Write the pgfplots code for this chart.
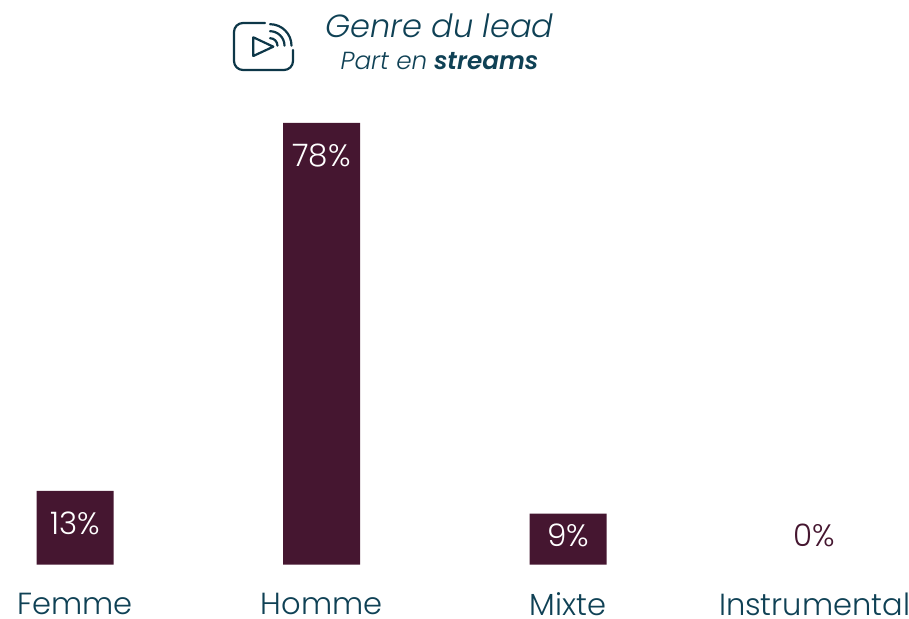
\documentclass[border=0pt]{standalone}
\usepackage{fontspec}
\setmainfont{Poppins Light}[ItalicFont={Poppins Light Italic},BoldFont={Poppins SemiBold},BoldItalicFont={Poppins SemiBold Italic}]
\usepackage{pgfplots}
\pgfplotsset{compat=1.18}
\definecolor{barc}{HTML}{451630}
\definecolor{txtc}{HTML}{0F4155}
\begin{document}
\begin{tikzpicture}[x=1pt,y=1pt]
\useasboundingbox (0,0) rectangle (909,618);
\begin{axis}[
  at={(0.6pt,53.5pt)},anchor=south west,
  scale only axis,width=909pt,height=564.5pt,
  xmin=-0.3022,xmax=3.3854,ymin=0,ymax=99.73,
  axis x line*=bottom,axis y line=none,
  x axis line style={draw=none},
  xtick={0,1,2,3},
  xticklabels={Femme,Homme,Mixte,Instrumental},
  major tick length=0pt,
  tick align=outside,
  xticklabel style={font=\fontsize{30.5}{34}\selectfont,text=txtc,anchor=center,yshift=-39.5pt,inner sep=0pt},
  clip=false,
]
\addplot[ybar,bar width=77pt,fill=barc,draw=none,bar shift=0pt] coordinates {(0,13) (1,78) (2,9)};
\addplot[ybar,bar width=77pt,fill=none,draw=none,bar shift=0pt] coordinates {(3,0)};
\addplot[draw=none,mark=none,nodes near coords,point meta=explicit symbolic,
  every node near coord/.style={anchor=center,inner sep=0pt,text=white,font=\fontsize{31}{34}\selectfont}]
  coordinates {(0,7.33)[13\%] (1,72.2)[78\%] (2,5.2)[9\%]};
\addplot[draw=none,mark=none,nodes near coords,point meta=explicit symbolic,
  every node near coord/.style={anchor=center,inner sep=0pt,text=barc,font=\fontsize{31}{34}\selectfont}]
  coordinates {(3,5.2)[0\%]};
\end{axis}
\node[text=txtc,font=\itshape\fontsize{32}{36}\selectfont,anchor=center,inner sep=0pt] at (439.5,592) {Genre du lead};
\node[text=txtc,font=\fontsize{24.7}{28}\selectfont,anchor=center,inner sep=0pt] at (439.5,557) {\textit{Part en} \textbf{\textit{streams}}};
\begin{scope}[draw=txtc!85!black,line width=2.2pt,line cap=round,line join=round]
\draw (265,595) -- (243,595) arc[start angle=90,end angle=180,radius=9] -- (234,557) arc[start angle=180,end angle=270,radius=9] -- (284,548) arc[start angle=270,end angle=360,radius=9] -- (293,568);
\draw (253.3,580.7) -- (253.3,562) -- (273.3,571.3) -- cycle;
\draw (270,593.8) arc[start angle=90,end angle=0,radius=21.5];
\draw (270,586.8) arc[start angle=90,end angle=0,radius=14.5];
\draw (270,579.8) arc[start angle=90,end angle=0,radius=7.5];
\end{scope}
\end{tikzpicture}
\end{document}
